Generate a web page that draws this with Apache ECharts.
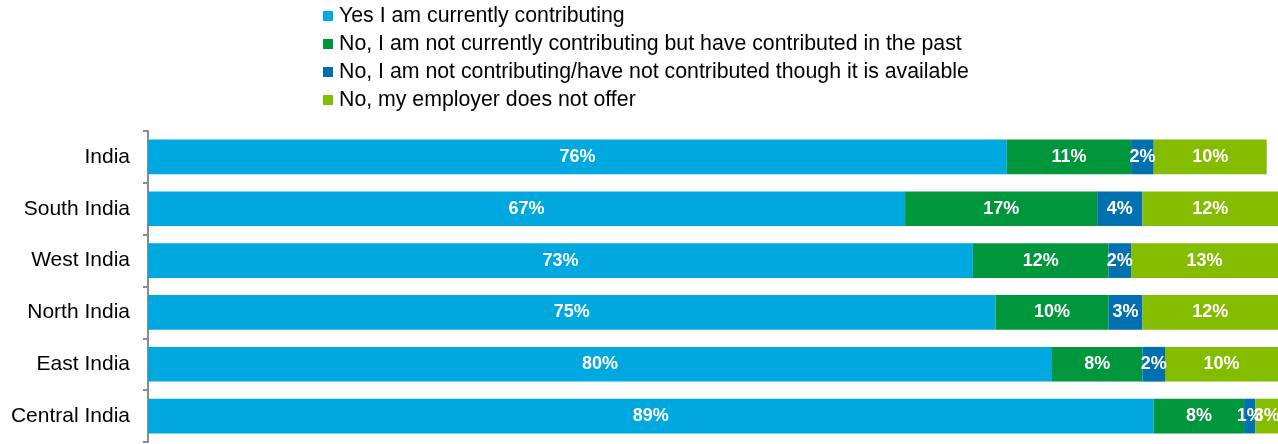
<!DOCTYPE html>
<html>
<head>
<meta charset="utf-8">
<script src="https://cdn.jsdelivr.net/npm/echarts@6/dist/echarts.min.js"></script>
<style>
  html, body { margin: 0; padding: 0; background: #ffffff; }
  #chart { width: 1278px; height: 444px; }
</style>
</head>
<body>
<div id="chart"></div>
<script>
// Regions, top to bottom
const regions = ['India', 'South India', 'West India', 'North India', 'East India', 'Central India'];

// Share of respondents (%) per answer
const currentlyContributing = [76, 67, 73, 75, 80, 89];
const contributedInPast = [11, 17, 12, 10, 8, 8];
const notContributingAvailable = [2, 4, 2, 3, 2, 1];
const employerDoesNotOffer = [10, 12, 13, 12, 10, 3];

const seriesNames = [
  'Yes I am currently contributing',
  'No, I am not currently contributing but have contributed in the past',
  'No, I am not contributing/have not contributed though it is available',
  'No, my employer does not offer'
];
const seriesValues = [currentlyContributing, contributedInPast, notContributingAvailable, employerDoesNotOffer];
const seriesColors = ['#00a8e0', '#00963c', '#0070b0', '#84bc00'];

const chart = echarts.init(document.getElementById('chart'), null, { renderer: 'canvas' });

chart.setOption({
  animation: false,
  textStyle: { fontFamily: 'Liberation Sans, Arial, sans-serif' },
  color: seriesColors,
  legend: {
    orient: 'vertical',
    left: 323,
    top: 5,
    padding: 0,
    itemWidth: 10,
    itemHeight: 10,
    itemGap: 6,
    icon: 'rect',
    textStyle: { fontSize: 21.3, color: '#000000', lineHeight: 22, padding: [0, 0, 0, 1] },
    data: seriesNames
  },
  grid: { left: 148, right: -4, top: 131, bottom: 2, containLabel: false },
  xAxis: {
    type: 'value',
    min: 0,
    max: 100,
    show: false
  },
  yAxis: {
    type: 'category',
    inverse: true,
    data: regions,
    axisLine: { show: true, lineStyle: { color: '#8c8c8c', width: 2 } },
    axisTick: { show: true, length: 5, lineStyle: { color: '#8c8c8c', width: 2 } },
    axisLabel: { fontSize: 21, color: '#000000', margin: 18 }
  },
  series: seriesNames.map((name, i) => ({
    name: name,
    type: 'bar',
    stack: 'total',
    barCategoryGap: '33%',
    data: seriesValues[i],
    itemStyle: { color: seriesColors[i] },
    label: {
      show: true,
      position: 'inside',
      formatter: p => p.value + '%',
      color: '#ffffff',
      fontWeight: 'bold',
      fontSize: 18
    }
  }))
});
</script>
</body>
</html>
